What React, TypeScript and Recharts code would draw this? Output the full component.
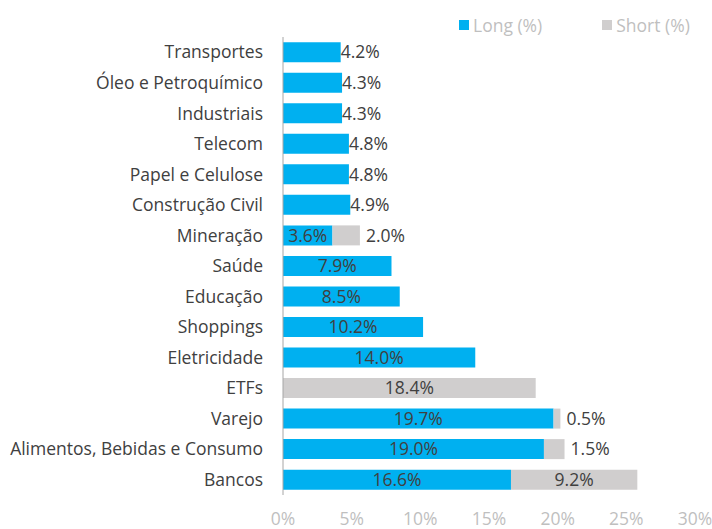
import { BarChart, Bar, XAxis, YAxis, LabelList } from 'recharts';

const categories = [
  'Transportes', 'Óleo e Petroquímico', 'Industriais', 'Telecom', 'Papel e Celulose',
  'Construção Civil', 'Mineração', 'Saúde', 'Educação', 'Shoppings', 'Eletricidade',
  'ETFs', 'Varejo', 'Alimentos, Bebidas e Consumo', 'Bancos',
];
const longPct = [4.2, 4.3, 4.3, 4.8, 4.8, 4.9, 3.6, 7.9, 8.5, 10.2, 14.0, null, 19.7, 19.0, 16.6];
const shortPct = [null, null, null, null, null, null, 2.0, null, null, null, null, 18.4, 0.5, 1.5, 9.2];
const xTicks = [0, 5, 10, 15, 20, 25, 30];
const seriesNames = ['Long (%)', 'Short (%)'];

const BLUE = '#00B0F0';
const GREY = '#D0CECE';
const TEXT = '#404040';
const FONT = '"Open Sans", sans-serif';
const FS = 17.5;

const data = categories.map((name, i) => ({ name, long: longPct[i], short: shortPct[i] }));

// inside (centred) when the bar is wide enough or has a short part, else just past the end
function makeLabel(series: 'long' | 'short') {
  return (p: any) => {
    const { x, y, width, height, value, index } = p;
    if (value == null) return null;
    const inside = series === 'long' ? value >= 5 || shortPct[index] != null : value >= 5;
    const tx = inside ? x + width / 2 : x + width + (series === 'long' ? 0 : 6);
    return (
      <text x={tx} y={y + height / 2} dy="0.36em" textAnchor={inside ? 'middle' : 'start'}
        fill={TEXT} fontSize={FS} fontFamily={FONT}>
        {value.toFixed(1)}%
      </text>
    );
  };
}

function LegendBox() {
  const colors = [BLUE, GREY];
  return (
    <div style={{ position: 'absolute', top: 13, left: 459, display: 'flex', gap: 60,
      fontFamily: FONT, fontSize: FS, color: '#BFBFBF' }}>
      {seriesNames.map((label, i) => (
        <div key={label} style={{ display: 'flex', alignItems: 'center' }}>
          <span style={{ width: 10, height: 10, background: colors[i], marginRight: 4, display: 'inline-block' }} />
          {label}
        </div>
      ))}
    </div>
  );
}

export default function App() {
  return (
    <div style={{ position: 'absolute', left: 0, top: 0, width: 712, height: 529, background: '#fff' }}>
      <BarChart width={712} height={529} data={data} layout="vertical"
        margin={{ top: 37, right: 17, bottom: 4, left: 0 }} barCategoryGap="17%">
        <XAxis type="number" domain={[0, 30]} ticks={xTicks} tickFormatter={(v) => `${v}%`}
          axisLine={false} tickLine={false} tickSize={0} tickMargin={18} height={30}
          tick={{ fill: '#BFBFBF', fontSize: FS, fontFamily: FONT }} interval={0} />
        <YAxis type="category" dataKey="name" width={283} axisLine={{ stroke: '#A6A6A6' }}
          tickLine={false} tickSize={0} tickMargin={20} interval={0}
          tick={{ fill: TEXT, fontSize: FS, fontFamily: FONT }} />
        <Bar dataKey="long" stackId="a" fill={BLUE} isAnimationActive={false}>
          <LabelList dataKey="long" content={makeLabel('long')} />
        </Bar>
        <Bar dataKey="short" stackId="a" fill={GREY} isAnimationActive={false}>
          <LabelList dataKey="short" content={makeLabel('short')} />
        </Bar>
      </BarChart>
      <LegendBox />
    </div>
  );
}
